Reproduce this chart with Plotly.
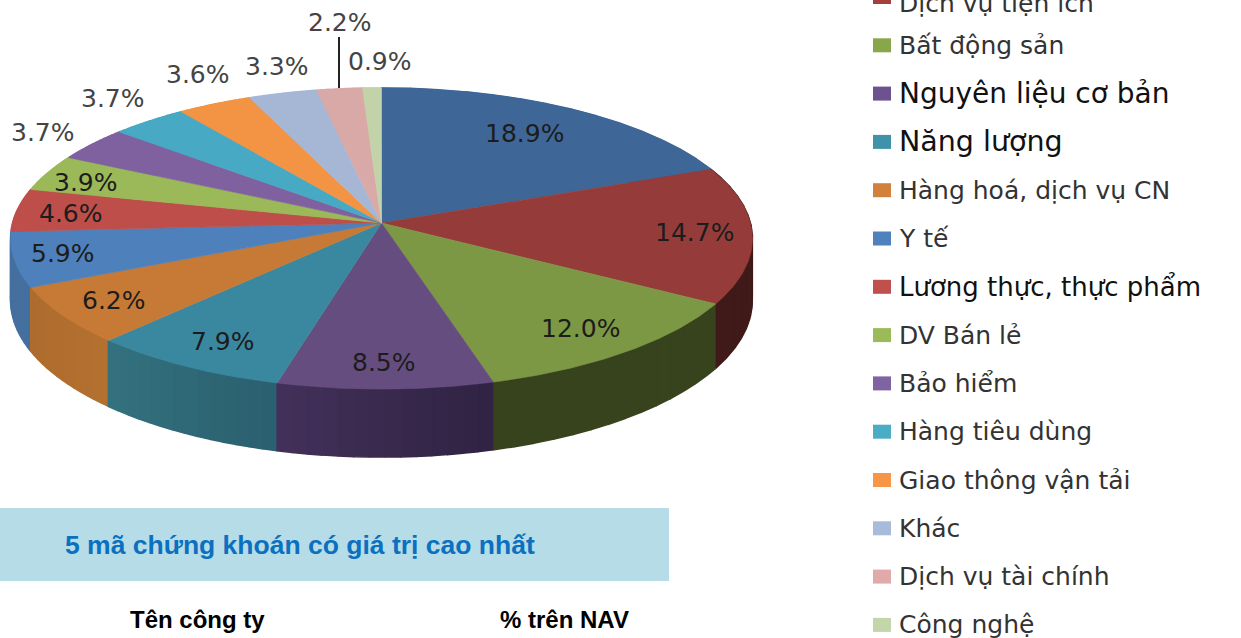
import numpy as np
import plotly.graph_objects as go

# ---- data ----
VALUES = [18.9, 14.7, 12.0, 8.5, 7.9, 6.2, 5.9, 4.6, 3.9, 3.7, 3.7, 3.6, 3.3, 2.2, 0.9]
LEGEND_NAMES = ["Dịch vụ tiện ích", "Bất động sản", "Nguyên liệu cơ bản", "Năng lượng",
                "Hàng hoá, dịch vụ CN", "Y tế", "Lương thực, thực phẩm", "DV Bán lẻ",
                "Bảo hiểm", "Hàng tiêu dùng", "Giao thông vận tải", "Khác",
                "Dịch vụ tài chính", "Công nghệ"]
TITLE = "5 mã chứng khoán có giá trị cao nhất"
TABLE_HEADERS = ["Tên công ty", "% trên NAV"]

# ---- styles ----
TOP_COLORS = ["#3e6797", "#953c3a", "#7d9845", "#664d7f", "#3a88a0", "#c67a35", "#4e80bb",
              "#bd4e4a", "#9bb958", "#7f61a0", "#47a9c3", "#f29444", "#a6b7d6", "#d9a9a8", "#c3d3a9"]
SIDE_A = ["#3e6797", "#3f1a18", "#37431d", "#2f2342", "#2a5f6e", "#b4702f", "#44709f",
          "#bd4e4a", "#9bb958", "#7f61a0", "#47a9c3", "#f29444", "#a6b7d6", "#d9a9a8", "#c3d3a9"]
SIDE_B = ["#3e6797", "#3f1a18", "#37431d", "#43305a", "#34727f", "#ad6c2e", "#44709f",
          "#bd4e4a", "#9bb958", "#7f61a0", "#47a9c3", "#f29444", "#a6b7d6", "#d9a9a8", "#c3d3a9"]
LEGEND_SWATCH = ["#a33f3c", "#89a64a", "#6d5290", "#3f92a8", "#d1813c", "#4f81bd", "#c0504d",
                 "#9bbb59", "#8064a2", "#4bacc6", "#f79646", "#a9bbdb", "#dfaaa9", "#c3d6a9"]
LEGEND_SIZE = [25, 25, 28, 28.5, 25, 25, 26, 25, 25, 25, 25, 25, 25, 25]
LEGEND_TEXT = ["#333", "#333", "#111", "#111", "#333", "#333", "#111", "#333", "#333", "#333", "#333", "#333", "#333", "#333"]

LABEL_X = [524, 694, 580, 384, 223, 114, 63, 71, 86, 43, 113, 198, 277, 340, 380]
LABEL_Y = [133, 232, 328, 362, 341, 300, 253, 213, 182, 132, 98, 74, 66, 22, 61]
LABEL_COLOR = ["#1c1c1c"] * 9 + ["#444"] * 6

CX, CY = 381.5, 223       # apex of the wedges
A, B, K = 369, 149, 0.103
DEPTH = 61


def project(theta):
    w = 1 + K * np.cos(theta)
    return CX + A * np.sin(theta) / w, CY - B * np.cos(theta) / w, DEPTH / w


def mix(c1, c2, t):
    a = [int(c1[i:i + 2], 16) for i in (1, 3, 5)]
    b = [int(c2[i:i + 2], 16) for i in (1, 3, 5)]
    return "rgb(%d,%d,%d)" % tuple(round(x + (y - x) * t) for x, y in zip(a, b))


edges = np.cumsum([0] + VALUES) / sum(VALUES) * 2 * np.pi
fig = go.Figure()


def poly(xs, ys, color, lw=0.6):
    fig.add_trace(go.Scatter(x=xs, y=ys, mode="lines", fill="toself", fillcolor=color,
                             line=dict(width=lw, color=color), hoverinfo="skip", showlegend=False))


# side wall, sliced in narrow bands for the shading; the back slices are drawn first
order = sorted(range(len(VALUES)), key=lambda k: -np.cos((edges[k] + edges[k + 1]) / 2))
for i in order:
    bands = 14
    ts = np.linspace(edges[i], edges[i + 1], bands + 1)
    for j in range(bands):
        th = np.linspace(ts[j], ts[j + 1], 6)
        x, y, d = project(th)
        poly(list(x) + list(x[::-1]), list(y) + list((y + d)[::-1]),
             mix(SIDE_A[i], SIDE_B[i], (j + 0.5) / bands), lw=1.5)

# top face
for i in range(len(VALUES)):
    th = np.linspace(edges[i], edges[i + 1], 80)
    x, y, _ = project(th)
    poly([CX] + list(x) + [CX], [CY] + list(y) + [CY], TOP_COLORS[i])

shapes = [
    dict(type="rect", x0=0, x1=669, y0=508, y1=581, fillcolor="#b6dce8", line_width=0, layer="below"),
    dict(type="line", x0=339, x1=339, y0=37, y1=88, line=dict(color="#222", width=2)),
]
annotations = []


def text(x, y, s, size, color, family="DejaVu Sans", anchor="center", bold=False):
    # annotations outside the axis range are dropped, so a row above the top edge is shifted in pixels
    shift = -y if y < 0 else 0
    annotations.append(dict(x=x, y=max(y, 0), yshift=-shift, text=("<b>%s</b>" % s) if bold else s,
                            showarrow=False, xanchor=anchor, yanchor="middle",
                            font=dict(family=family, size=size, color=color)))


for v, x, y, c in zip(VALUES, LABEL_X, LABEL_Y, LABEL_COLOR):
    text(x, y, "%.1f%%" % v, 25, c)

for i, name in enumerate(LEGEND_NAMES):
    yy = -3 + 48.3 * i
    shapes.append(dict(type="rect", x0=873, x1=891, y0=yy - 7, y1=yy + 7,
                       fillcolor=LEGEND_SWATCH[i], line_width=0))
    text(897, yy, name, LEGEND_SIZE[i], LEGEND_TEXT[i], anchor="left")

text(63, 545, TITLE, 26.5, "#0b70c0", family="Liberation Sans", anchor="left", bold=True)
text(197, 619, TABLE_HEADERS[0], 24, "#000", family="Liberation Sans", bold=True)
text(564, 619, TABLE_HEADERS[1], 24, "#000", family="Liberation Sans", bold=True)

fig.update_layout(
    width=1241, height=638, margin=dict(l=0, r=0, t=0, b=0),
    paper_bgcolor="white", plot_bgcolor="white", showlegend=False,
    xaxis=dict(range=[0, 1241], visible=False, fixedrange=True),
    yaxis=dict(range=[638, 0], visible=False, fixedrange=True),
    shapes=shapes, annotations=annotations,
)
fig.write_html("out.html", config={"displayModeBar": False},
               post_script="document.body.style.margin='0';document.body.style.overflow='hidden';")
